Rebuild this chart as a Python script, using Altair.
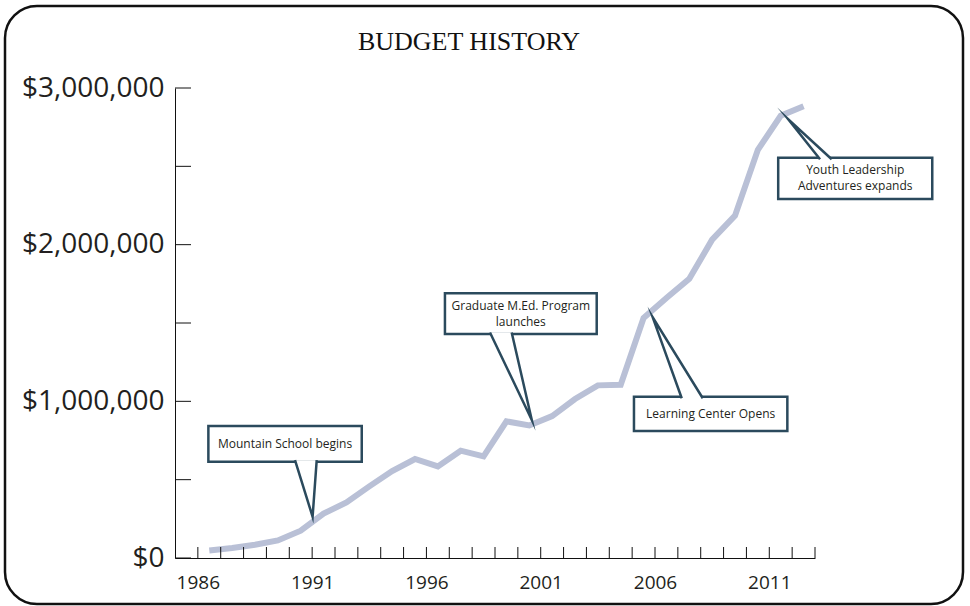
import altair as alt
import pandas as pd

# ---------------- data ----------------
years = list(range(1986, 2013))
budget = [48000, 64000, 85000, 112000, 174000, 283000, 355000, 457000, 555000,
          632000, 585000, 685000, 649000, 872000, 846000, 906000, 1015000,
          1102000, 1106000, 1532000, 1660000, 1782000, 2032000, 2185000,
          2606000, 2823000, 2883000]

x_tick_years = list(range(1986, 2014))
x_label_years = [1986, 1991, 1996, 2001, 2006, 2011]
y_tick_values = [0, 500000, 1000000, 1500000, 2000000, 2500000, 3000000]
y_label_values = [0, 1000000, 2000000, 3000000]

chart_title = ["BUDGET HISTORY"]
note_text = ["Mountain School begins", "Graduate M.Ed. Program\nlaunches",
             "Learning Center Opens", "Youth Leadership\nAdventures expands"]
box_x1 = [1986.46, 1996.81, 2005.08, 2011.39]
box_x2 = [1993.17, 2003.45, 2011.79, 2018.13]
box_top = [842600, 1689600, 1029600, 2555100]
box_bottom = [614700, 1429800, 810600, 2291500]
ptr_base_x1 = [1990.25, 1998.78, 2007.17, 2013.22]
ptr_base_x2 = [1991.20, 1999.73, 2008.09, 2013.73]
ptr_tip_x = [1991.02, 2000.61, 2005.90, 2011.83]
ptr_tip_y = [263600, 880900, 1536400, 2800200]
ptr_side = ["bottom", "bottom", "top", "top"]

# ---------------- tables ----------------
df = pd.DataFrame({"year": years, "budget": budget})
df_xt = pd.DataFrame({"year": x_tick_years})
df_yt = pd.DataFrame({"v": y_tick_values})
df_box = pd.DataFrame({"text": note_text, "x1": box_x1, "x2": box_x2,
                       "top": box_top, "bottom": box_bottom,
                       "multi": ["\n" in t for t in note_text]})
rows = []
for i in range(len(note_text)):
    by = box_bottom[i] + 10000 if ptr_side[i] == "bottom" else box_top[i] - 10000
    rows.append({"id": i, "k": 0, "x": ptr_base_x1[i], "y": by})
    rows.append({"id": i, "k": 1, "x": ptr_tip_x[i], "y": ptr_tip_y[i]})
    rows.append({"id": i, "k": 2, "x": ptr_base_x2[i], "y": by})
df_ptr = pd.DataFrame(rows)

W, H = 640, 470
xscale = alt.Scale(domain=[1985, 2013], nice=False, zero=False)
yscale = alt.Scale(domain=[0, 3000000], nice=False, zero=True)

TXT = "#231f20"
DARK = "#2b4a5d"
LINE = "#b9c0d6"
FONT = "Open Sans"

border = alt.Chart(pd.DataFrame({"a": [0]})).mark_rect(
    stroke="#111111", strokeWidth=2.5, fillOpacity=0, cornerRadius=32
).encode(x=alt.value(-170), x2=alt.value(788), y=alt.value(-82), y2=alt.value(516))

title = alt.Chart(pd.DataFrame({"t": chart_title})).mark_text(
    font="Liberation Serif", fontSize=26, color="#111111", align="center", baseline="middle"
).encode(x=alt.value(294), y=alt.value(-46), text="t:N")

line = alt.Chart(df).transform_calculate(xm="datum.year + 0.5").mark_line(
    color=LINE, strokeWidth=6, strokeJoin="miter", strokeCap="butt"
).encode(
    x=alt.X("xm:Q", scale=xscale, title=None,
            axis=alt.Axis(values=x_label_years, format="d", tickSize=0, labelPadding=15,
                          labelFontSize=19, labelFont=FONT, labelColor=TXT,
                          domainColor="#111111", domainWidth=1, grid=False)),
    y=alt.Y("budget:Q", scale=yscale, title=None,
            axis=alt.Axis(values=y_label_values, format="$,.0f", tickSize=0, labelPadding=11,
                          labelFontSize=28, labelFont=FONT, labelColor=TXT,
                          domainColor="#111111", domainWidth=1, grid=False)),
)

xticks = alt.Chart(df_xt).mark_rule(color="#111111", strokeWidth=1).encode(
    x=alt.X("year:Q", scale=xscale, title=None), y=alt.value(H), y2=alt.value(H - 11))

yticks = alt.Chart(df_yt).mark_rule(color="#111111", strokeWidth=1).encode(
    y=alt.Y("v:Q", scale=yscale, title=None), x=alt.value(0), x2=alt.value(16))

boxes = alt.Chart(df_box).mark_rect(fill="white", stroke=DARK, strokeWidth=2.5).encode(
    x=alt.X("x1:Q", scale=xscale, title=None), x2="x2:Q",
    y=alt.Y("top:Q", scale=yscale, title=None), y2="bottom:Q")

pointers = alt.Chart(df_ptr).mark_line(
    fill="white", stroke=DARK, strokeWidth=2.5, strokeJoin="miter", strokeMiterLimit=20
).encode(
    x=alt.X("x:Q", scale=xscale, title=None),
    y=alt.Y("y:Q", scale=yscale, title=None),
    detail="id:N", order="k:Q")

def note_layer(multi, dy):
    return alt.Chart(df_box).transform_filter(
        alt.datum.multi == multi
    ).transform_calculate(
        xc="(datum.x1 + datum.x2) / 2", yc="(datum.top + datum.bottom) / 2"
    ).mark_text(font=FONT, fontSize=12, color=TXT, lineBreak="\n", lineHeight=16,
                align="center", baseline="middle", dy=dy).encode(
        x=alt.X("xc:Q", scale=xscale, title=None),
        y=alt.Y("yc:Q", scale=yscale, title=None),
        text="text:N")

texts1 = note_layer(False, 0)
texts2 = note_layer(True, -8)

chart = alt.layer(border, title, line, xticks, yticks, boxes, pointers, texts1, texts2).properties(
    width=W, height=H,
    background="white",
    autosize=alt.AutoSizeParams(type="none"),
    padding={"left": 175, "top": 88, "right": 155, "bottom": 48},
).configure_view(strokeWidth=0, stroke="transparent")

chart.save("out.html", embed_options={"renderer": "svg", "actions": False})
